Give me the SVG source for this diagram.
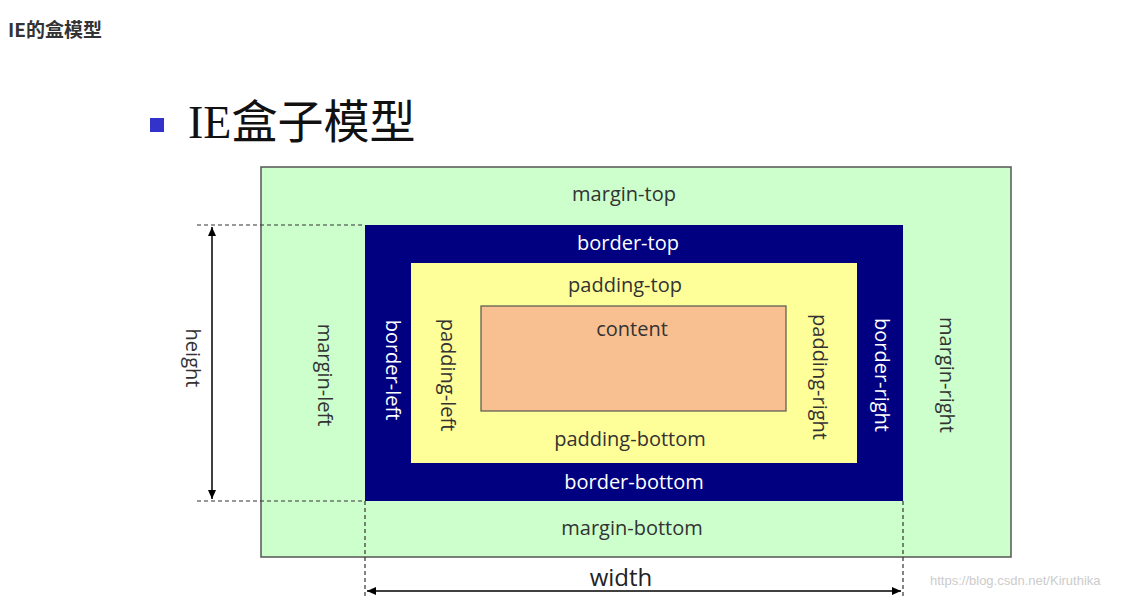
<svg xmlns="http://www.w3.org/2000/svg" width="1146" height="598" viewBox="0 0 1146 598">
<defs>
<marker id="ah" markerWidth="10" markerHeight="10" refX="9" refY="5" orient="auto-start-reverse" markerUnits="userSpaceOnUse"><path d="M0,1 L9,5 L0,9 Z" fill="#000"/></marker>
<style>
.t{font-family:"Open Sans","Liberation Sans",sans-serif;font-size:20px;text-anchor:middle;dominant-baseline:central}
.d{fill:#333}.w{fill:#fff}
.dash{stroke:#333;stroke-width:1.2;stroke-dasharray:4,3;fill:none}
</style>
</defs>
<rect width="1146" height="598" fill="#fff"/>
<text x="8" y="37" font-family="'Noto Sans CJK SC',sans-serif" font-size="19" font-weight="bold" fill="#333">IE的盒模型</text>
<rect x="150" y="118" width="14" height="14" fill="#3333cc"/>
<text x="188" y="138" font-family="'Liberation Serif','Noto Sans CJK SC',serif" font-size="46" fill="#111">IE盒子模型</text>
<g id="margin"><rect x="261" y="167" width="750" height="390" fill="#ccffcc" stroke="#555" stroke-width="1.5"/>
<text class="t d" x="624" y="193">margin-top</text><text class="t d" x="632" y="527">margin-bottom</text>
<text class="t d" transform="translate(325,375) rotate(90)">margin-left</text><text class="t d" transform="translate(947,375) rotate(90)">margin-right</text></g>
<g id="border"><rect x="365" y="225" width="538" height="276" fill="#000080"/>
<text class="t w" x="628" y="242">border-top</text><text class="t w" x="634" y="481">border-bottom</text>
<text class="t w" transform="translate(393,370) rotate(90)">border-left</text><text class="t w" transform="translate(882,375) rotate(90)">border-right</text></g>
<g id="padding"><rect x="411" y="263" width="446" height="200" fill="#ffff99"/>
<text class="t d" x="625" y="284">padding-top</text><text class="t d" x="630" y="438">padding-bottom</text>
<text class="t d" transform="translate(448,375) rotate(90)">padding-left</text><text class="t d" transform="translate(820,377) rotate(90)">padding-right</text></g>
<g id="content"><rect x="481" y="306" width="305" height="105" fill="#f8c090" stroke="#555" stroke-width="1.2"/>
<text class="t d" x="632" y="328">content</text></g>
<g id="connectors">
<path class="dash" d="M197,225H365M197,501H365M365,501V598M903,501V598"/>
<line x1="212" y1="227" x2="212" y2="499" stroke="#000" stroke-width="1.5" marker-start="url(#ah)" marker-end="url(#ah)"/>
<line x1="367" y1="591" x2="901" y2="591" stroke="#000" stroke-width="1.5" marker-start="url(#ah)" marker-end="url(#ah)"/>
</g>
<text class="t d" transform="translate(193,358) rotate(90)">height</text>
<text x="621" y="576" font-family="'Open Sans','Liberation Sans',sans-serif" font-size="24" text-anchor="middle" dominant-baseline="central" fill="#222">width</text>
<text x="930" y="585" font-family="'Liberation Sans',sans-serif" font-size="13" fill="#ccc">https://blog.csdn.net/Kiruthika</text>
</svg>
